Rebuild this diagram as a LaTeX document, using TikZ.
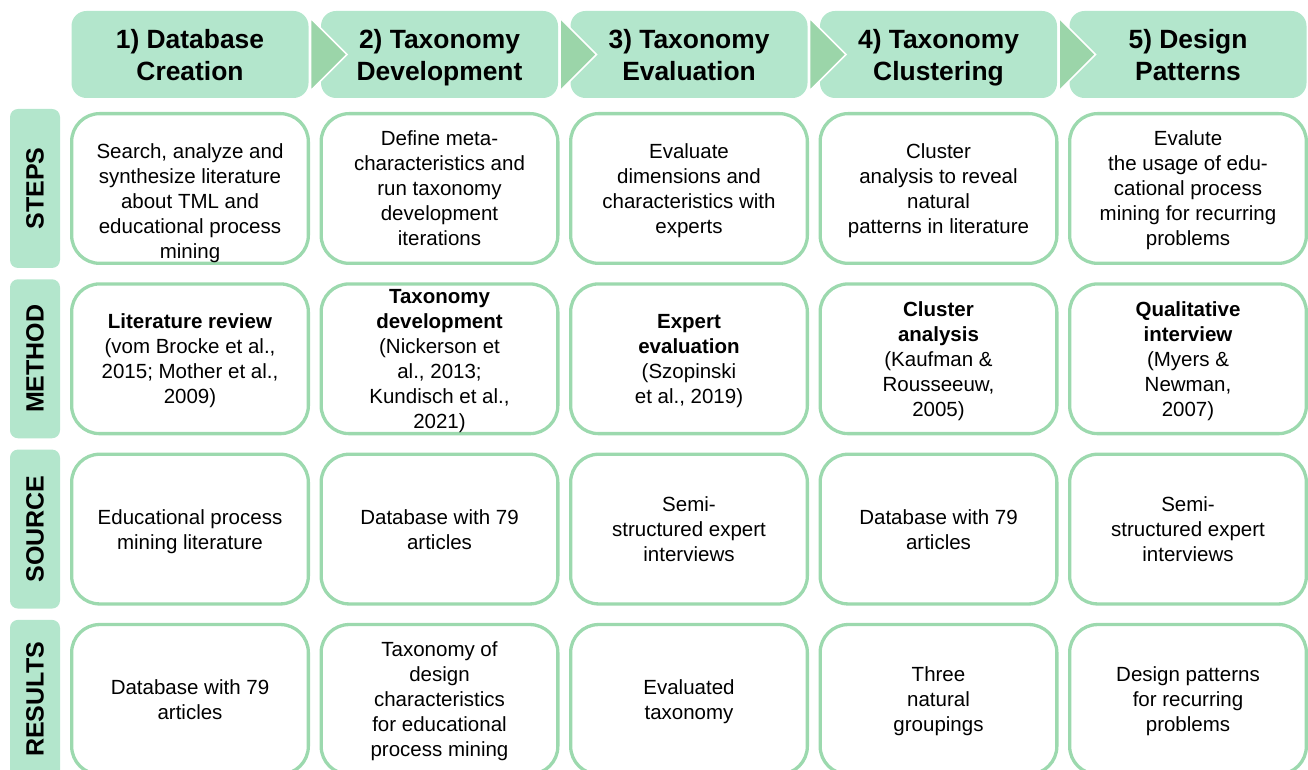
\documentclass[tikz,border=0pt]{standalone}
\usepackage{fontspec}
\usepackage{graphicx}
\setmainfont{Liberation Sans}
\usetikzlibrary{calc,chains,positioning,scopes}
\definecolor{mintfill}{HTML}{B3E6CC}
\definecolor{mintline}{HTML}{9CD9AE}
\definecolor{mintarrow}{HTML}{9BD5A9}
\tikzset{
    cell text/.style = {
        align = center,
        font = \fontsize{20.5pt}{25pt}\selectfont,
        text depth = -1.7pt,
        },
    cell/.style = {
        cell text,
        draw = mintline,
        line width = 3.3pt,
        rounded corners = 28pt,
        minimum width = 236.7pt,
        minimum height = 149.7pt,
        inner sep = 0pt,
        outer sep = 0pt,
        on chain,
        },
    phase/.style = {
        fill = mintfill,
        rounded corners = 15pt,
        minimum width = 237pt,
        minimum height = 87pt,
        inner sep = 0pt,
        outer sep = 0pt,
        align = center,
        font = \bfseries\fontsize{26.4pt}{32pt}\selectfont,
        text depth = 0pt,
        on chain,
        },
    row label/.style = {
        fill = mintfill,
        rounded corners = 8pt,
        minimum width = 50pt,
        minimum height = 159pt,
        inner sep = 0pt,
        outer sep = 0pt,
        font = \bfseries\fontsize{25pt}{30pt}\selectfont,
        },
    phase arrow/.style = {
        fill = mintarrow,
        draw = white,
        line width = 1.5pt,
        },
}
\begin{document}
\begin{tikzpicture}[x=1pt, y=1pt]
    \useasboundingbox (0,0) rectangle (1308,770);

    % phases
    { [start chain = going right, node distance = 12.5pt]
    \node [phase] at (190,715.5) (h1) {1) Database\\Creation};
    \node [phase] (h2) {2) Taxonomy\\Development};
    \node [phase] (h3) {3) Taxonomy\\Evaluation};
    \node [phase] (h4) {4) Taxonomy\\Clustering};
    \node [phase] (h5) {5) Design\\Patterns};
    }
    \draw[phase arrow] ($(h1.east)+(2,36.5)$) -- ($(h2.west)+(26,0)$) -- ($(h1.east)+(2,-36.5)$) -- cycle;
    \draw[phase arrow] ($(h2.east)+(2,36.5)$) -- ($(h3.west)+(26,0)$) -- ($(h2.east)+(2,-36.5)$) -- cycle;
    \draw[phase arrow] ($(h3.east)+(2,36.5)$) -- ($(h4.west)+(26,0)$) -- ($(h3.east)+(2,-36.5)$) -- cycle;
    \draw[phase arrow] ($(h4.east)+(2,36.5)$) -- ($(h5.west)+(26,0)$) -- ($(h4.east)+(2,-36.5)$) -- cycle;

    % steps
    { [start chain = going right, node distance = 12.8pt]
    \node [cell, label={[cell text, yshift=-12.7pt]center:Search, analyze and\\synthesize literature\\about TML and\\educational process\\mining}] at (190,581.5) (s1) {};
    \node [cell] (s2) {Define meta-\\characteristics and\\run taxonomy\\development\\iterations};
    \node [cell] (s3) {Evaluate\\dimensions and\\characteristics with\\experts};
    \node [cell] (s4) {Cluster\\analysis to reveal\\natural\\patterns in literature};
    \node [cell] (s5) {Evalute\\the usage of edu-\\cational process\\mining for recurring\\problems};
    }

    % method
    { [start chain = going right, node distance = 12.8pt]
    \node [cell, below=20.6pt of s1] (m1) {\textbf{Literature review}\\(vom Brocke et al.,\\2015; Mother et al.,\\2009)};
    \node [cell] (m2) {\textbf{Taxonomy}\\\textbf{development}\\(Nickerson et\\al., 2013;\\Kundisch et al.,\\2021)};
    \node [cell] (m3) {\textbf{Expert}\\\textbf{evaluation}\\(Szopinski\\et al., 2019)};
    \node [cell] (m4) {\textbf{Cluster}\\\textbf{analysis}\\(Kaufman \&\\Rousseeuw,\\2005)};
    \node [cell] (m5) {\textbf{Qualitative}\\\textbf{interview}\\(Myers \&\\Newman,\\2007)};
    }

    % source
    { [start chain = going right, node distance = 12.8pt]
    \node [cell, below=20.6pt of m1] (o1) {Educational process\\mining literature};
    \node [cell] (o2) {Database with 79\\articles};
    \node [cell] (o3) {Semi-\\structured expert\\interviews};
    \node [cell] (o4) {Database with 79\\articles};
    \node [cell] (o5) {Semi-\\structured expert\\interviews};
    }

    % results
    { [start chain = going right, node distance = 12.8pt]
    \node [cell, below=20.6pt of o1] (r1) {Database with 79\\articles};
    \node [cell] (r2) {Taxonomy of\\design\\characteristics\\for educational\\process mining};
    \node [cell] (r3) {Evaluated\\taxonomy};
    \node [cell] (r4) {Three\\natural\\groupings};
    \node [cell] (r5) {Design patterns\\for recurring\\problems};
    }

    \node [row label, left=11.65pt of s1] (lsteps) {\rotatebox{90}{STEPS}};
    \node [row label, left=11.65pt of m1] (lmethod) {\rotatebox{90}{METHOD}};
    \node [row label, left=11.65pt of o1] (lsource) {\rotatebox{90}{SOURCE}};
    \node [row label, left=11.65pt of r1] (lresults) {\rotatebox{90}{RESULTS}};
\end{tikzpicture}
\end{document}
